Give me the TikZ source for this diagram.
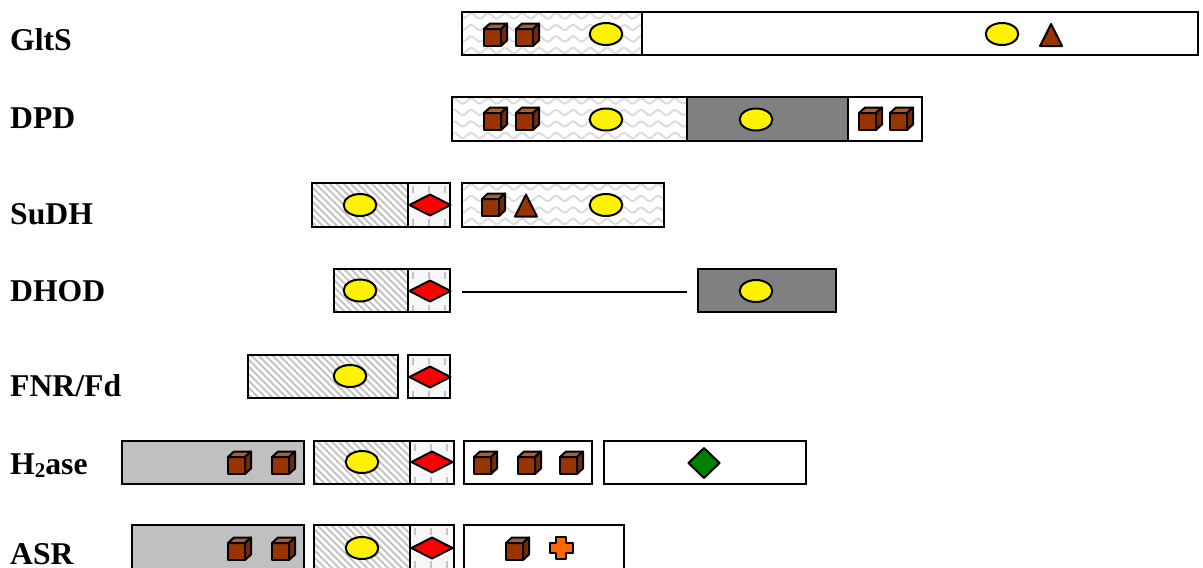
\documentclass[tikz,border=0pt]{standalone}
\usepackage{fontspec}
\setmainfont{Liberation Serif}
\definecolor{cubefront}{HTML}{993300}
\definecolor{cubetop}{HTML}{AD5C33}
\definecolor{cubeside}{HTML}{7A2900}
\definecolor{domgrey}{HTML}{C0C0C0}
\definecolor{domdark}{HTML}{808080}
\definecolor{hatchgrey}{HTML}{C4C4C4}
\definecolor{wavegrey}{HTML}{DCDCDC}
\definecolor{crossor}{HTML}{FF6600}
\definecolor{leafgreen}{HTML}{008000}
\tikzset{
  outline/.style={draw=black,line width=2pt,line join=miter},
  glyph/.style={draw=black,line width=2pt,line join=round},
  lab/.style={anchor=base west,inner sep=0pt,font=\fontsize{31.7}{32}\selectfont\bfseries},
  patline/.style={draw=hatchgrey,line width=1.9pt},
}
\newcommand{\wavedom}[4]{%
  \begin{scope}
    \clip (#1,#2) rectangle (#3,#4);
    \fill[white] (#1,#2) rectangle (#3,#4);
    \foreach \r in {0,1,2,3}{
      \draw[draw=wavegrey,line width=2pt,domain=#1:#3,samples=110,smooth]
        plot (\x,{#2+4+\r*11.5+2.6*sin(\x*21.2)});
    }
  \end{scope}
  \path[outline] (#1,#2) rectangle (#3,#4);}
\newcommand{\hatchdom}[4]{%
  \begin{scope}
    \clip (#1,#2) rectangle (#3,#4);
    \fill[white] (#1,#2) rectangle (#3,#4);
    \foreach \s in {-60,-53,...,420}{
      \draw[patline] ({#1+\s},#2) -- ({#1+\s+50},{#2+50});
    }
  \end{scope}
  \path[outline] (#1,#2) rectangle (#3,#4);}
\newcommand{\dashdom}[4]{%
  \begin{scope}
    \clip (#1,#2) rectangle (#3,#4);
    \fill[white!97!black] (#1,#2) rectangle (#3,#4);
    \foreach \i in {0,1,2}{
      \draw[patline] ({#1+5+\i*16},{#2+3}) -- ++(0,7);
      \draw[patline] ({#1+5+\i*16},{#2+36}) -- ++(0,7);
    }
  \end{scope}
  \path[outline] (#1,#2) rectangle (#3,#4);}
\newcommand{\cubeg}[2]{%
  \path[glyph,fill=cubefront] (#1,#2) rectangle ++(17,-17);
  \path[glyph,fill=cubetop] (#1,{#2-17}) -- ++(6,-5.5) -- ++(17,0) -- ++(-6,5.5) -- cycle;
  \path[glyph,fill=cubeside] ({#1+17},#2) -- ++(6,-5.5) -- ++(0,-17) -- ++(-6,5.5) -- cycle;}
\newcommand{\ovalg}[2]{\path[glyph,fill=yellow] (#1,#2) ellipse [x radius=16.3,y radius=11];}
\newcommand{\trig}[2]{\path[glyph,fill=cubefront] ({#1-11},{#2+11}) -- (#1,{#2-11}) -- ({#1+11},{#2+11}) -- cycle;}
\newcommand{\reddg}[2]{\path[glyph,fill=red] ({#1-20.5},#2) -- (#1,{#2-10.5}) -- ({#1+20.5},#2) -- (#1,{#2+10.5}) -- cycle;}
\begin{document}
\begin{tikzpicture}[x=1pt,y=-1pt]
\useasboundingbox (0,0) rectangle (1203,568);
% GltS
\node[lab] (gl) at (10,50) {GltS};
\wavedom{462}{12}{642}{55}
\path[outline,fill=white] (642,12) rectangle (1198,55);
\cubeg{484}{46}\cubeg{516}{46}\ovalg{606}{34}\ovalg{1002}{34}\trig{1051}{35}
% DPD
\node[lab] (dp) at (10,128) {DPD};
\wavedom{452}{97}{687}{141}
\path[outline,fill=domdark] (687,97) rectangle (848,141);
\path[outline,fill=white] (848,97) rectangle (922,141);
\cubeg{484}{130}\cubeg{516}{130}\ovalg{606}{119.5}\ovalg{756}{119.5}\cubeg{859}{130}\cubeg{890}{130}
% SuDH
\node[lab] (su) at (10,224) {SuDH};
\hatchdom{312}{183}{408}{227}
\dashdom{408}{183}{450}{227}
\wavedom{462}{183}{664}{227}
\ovalg{360}{205}\reddg{430}{205}\cubeg{482}{216}\trig{526}{205.5}\ovalg{606}{205}
% DHOD
\node[lab] (dh) at (10,301) {DHOD};
\hatchdom{334}{269}{408}{312}
\dashdom{408}{269}{450}{312}
\coordinate (la) at (462,291.5); \coordinate (lb) at (687,291.5);
\draw[line width=2pt] (la) -- (lb);
\path[outline,fill=domdark] (698,269) rectangle (836,312);
\ovalg{360}{290.5}\reddg{430}{291}\ovalg{756}{291}
% FNR/Fd
\node[lab] (fn) at (10,396) {FNR/Fd};
\hatchdom{248}{355}{398}{398}
\dashdom{408}{355}{450}{398}
\ovalg{350}{376}\reddg{430}{377}
% H2ase
\node[lab] (h2) at (10,474) {H\raisebox{-0.12em}{\fontsize{21}{21}\selectfont 2}ase};
\path[outline,fill=domgrey] (122,441) rectangle (304,484);
\hatchdom{314}{441}{410}{484}
\dashdom{410}{441}{454}{484}
\path[outline,fill=white] (464,441) rectangle (592,484);
\path[outline,fill=white] (604,441) rectangle (806,484);
\cubeg{228}{474}\cubeg{272}{474}\ovalg{362}{462}\reddg{432}{462}
\cubeg{474}{474}\cubeg{518}{474}\cubeg{560}{474}
\path[glyph,fill=leafgreen] (688.5,463) -- (704,448) -- (719.5,463) -- (704,478) -- cycle;
% ASR
\node[lab] (as) at (10,564.5) {ASR};
\path[outline,fill=domgrey] (132,525) rectangle (304,570);
\hatchdom{314}{525}{410}{570}
\dashdom{410}{525}{454}{570}
\path[outline,fill=white] (464,525) rectangle (624,570);
\cubeg{228}{560}\cubeg{272}{560}\ovalg{362}{548}\reddg{432}{548}\cubeg{506}{560}
\path[glyph,fill=crossor] (556,537) -- (566,537) -- (566,542.5) -- (572.5,542.5) -- (572.5,553) -- (566,553) -- (566,559) -- (556,559) -- (556,553) -- (550,553) -- (550,542.5) -- (556,542.5) -- cycle;
\end{tikzpicture}
\end{document}
